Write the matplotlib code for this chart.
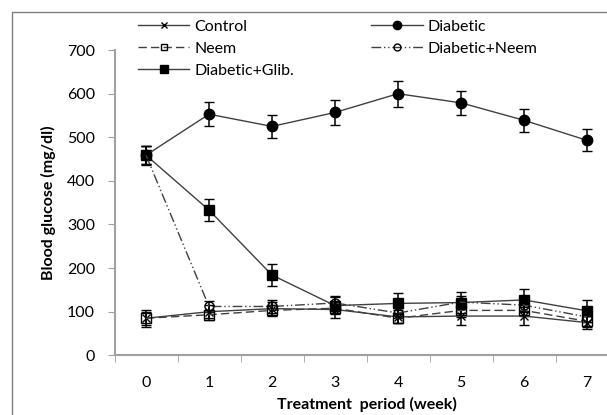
import numpy as np
import matplotlib; matplotlib.use("Agg")
import matplotlib.pyplot as plt
from matplotlib.patches import Rectangle
from matplotlib.lines import Line2D

plt.rcParams["font.family"] = ["Lato", "DejaVu Sans"]

weeks = [0, 1, 2, 3, 4, 5, 6, 7]
control = [85, 100, 107, 105, 88, 90, 90, 75]
control_err = [20, 15, 15, 20, 15, 20, 20, 15]
diabetic = [459, 553, 525, 557, 600, 579, 539, 493]
diabetic_err = [22, 27, 27, 28, 30, 28, 27, 25]
neem = [85, 93, 103, 108, 85, 103, 103, 78]
neem_err = [15, 12, 12, 12, 10, 15, 12, 12]
diab_neem = [459, 112, 112, 120, 97, 122, 115, 88]
diab_neem_err = [20, 12, 15, 15, 12, 15, 15, 12]
diab_glib = [459, 333, 184, 114, 119, 121, 127, 102]
diab_glib_err = [20, 25, 25, 20, 25, 25, 25, 25]

W, H = 607, 415
fig = plt.figure(figsize=(W / 100, H / 100), dpi=100)
fig.patches.append(Rectangle((12 / W, -0.1), 1.2, (H - 12) / H + 0.1, transform=fig.transFigure,
                             fill=False, ec="#7f7f7f", lw=1.0))
ax = fig.add_axes([114.5 / W, 59.7 / H, 504 / W, 305.2 / H])

lc = "#404040"
ebk = dict(ecolor="black", elinewidth=1.1, capsize=3.5, capthick=1.1)
styles = {
    "Control": dict(ls="-", marker="x", ms=6, mfc="black", mew=1),
    "Neem": dict(ls=(0, (6, 3)), marker="s", ms=6.5, mfc="none", mew=1),
    "Diabetic+Glib.": dict(ls="-", marker="s", ms=7, mfc="black", mew=1),
    "Diabetic": dict(ls="-", marker="o", ms=7.5, mfc="black", mew=1),
    "Diabetic+Neem": dict(ls=(0, (7, 2, 1, 2, 1, 2)), marker="o", ms=6.5, mfc="none", mew=1),
}
series = {"Control": (control, control_err), "Neem": (neem, neem_err),
          "Diabetic+Glib.": (diab_glib, diab_glib_err), "Diabetic": (diabetic, diabetic_err),
          "Diabetic+Neem": (diab_neem, diab_neem_err)}
for name, (v, e) in series.items():
    ax.errorbar(weeks, v, yerr=e, color=lc, lw=1, mec="black", **styles[name], **ebk)

ax.set_xlim(-0.5, 7.5)
ax.set_ylim(0, 700)
ax.set_yticks(range(0, 701, 100))
ax.set_xticks(weeks)
ax.set_xticks(np.arange(-0.5, 7.6, 1), minor=True)
ax.tick_params(axis="x", which="major", length=0, labelsize=11.5, pad=15)
ax.tick_params(axis="x", which="minor", length=5, color="#a0a0a0")
ax.tick_params(axis="y", length=5, color="#a0a0a0", labelsize=11.5, pad=9)
for s in ["top", "right"]:
    ax.spines[s].set_visible(False)
for s in ["left", "bottom"]:
    ax.spines[s].set_color("#a0a0a0")
    ax.spines[s].set_linewidth(1.5)
ax.set_xlabel("Treatment  period (week)", fontsize=11.5, fontweight="bold", labelpad=5)
ax.set_ylabel("Blood glucose (mg/dl)", fontsize=11.5, fontweight="bold", labelpad=8)

h = [Line2D([], [], color=lc, lw=1, mec="black", **{**styles[n], "ms": styles[n]["ms"] - 1.5}) for n in series]
fig.legend(h, list(series), ncol=2, loc="upper left", bbox_to_anchor=(124 / W, 1 - 5 / H), frameon=False,
           fontsize=11.5, handlelength=3.2, handletextpad=0.3, columnspacing=4.85, labelspacing=0.5)

fig.savefig("out.png", dpi=100)
